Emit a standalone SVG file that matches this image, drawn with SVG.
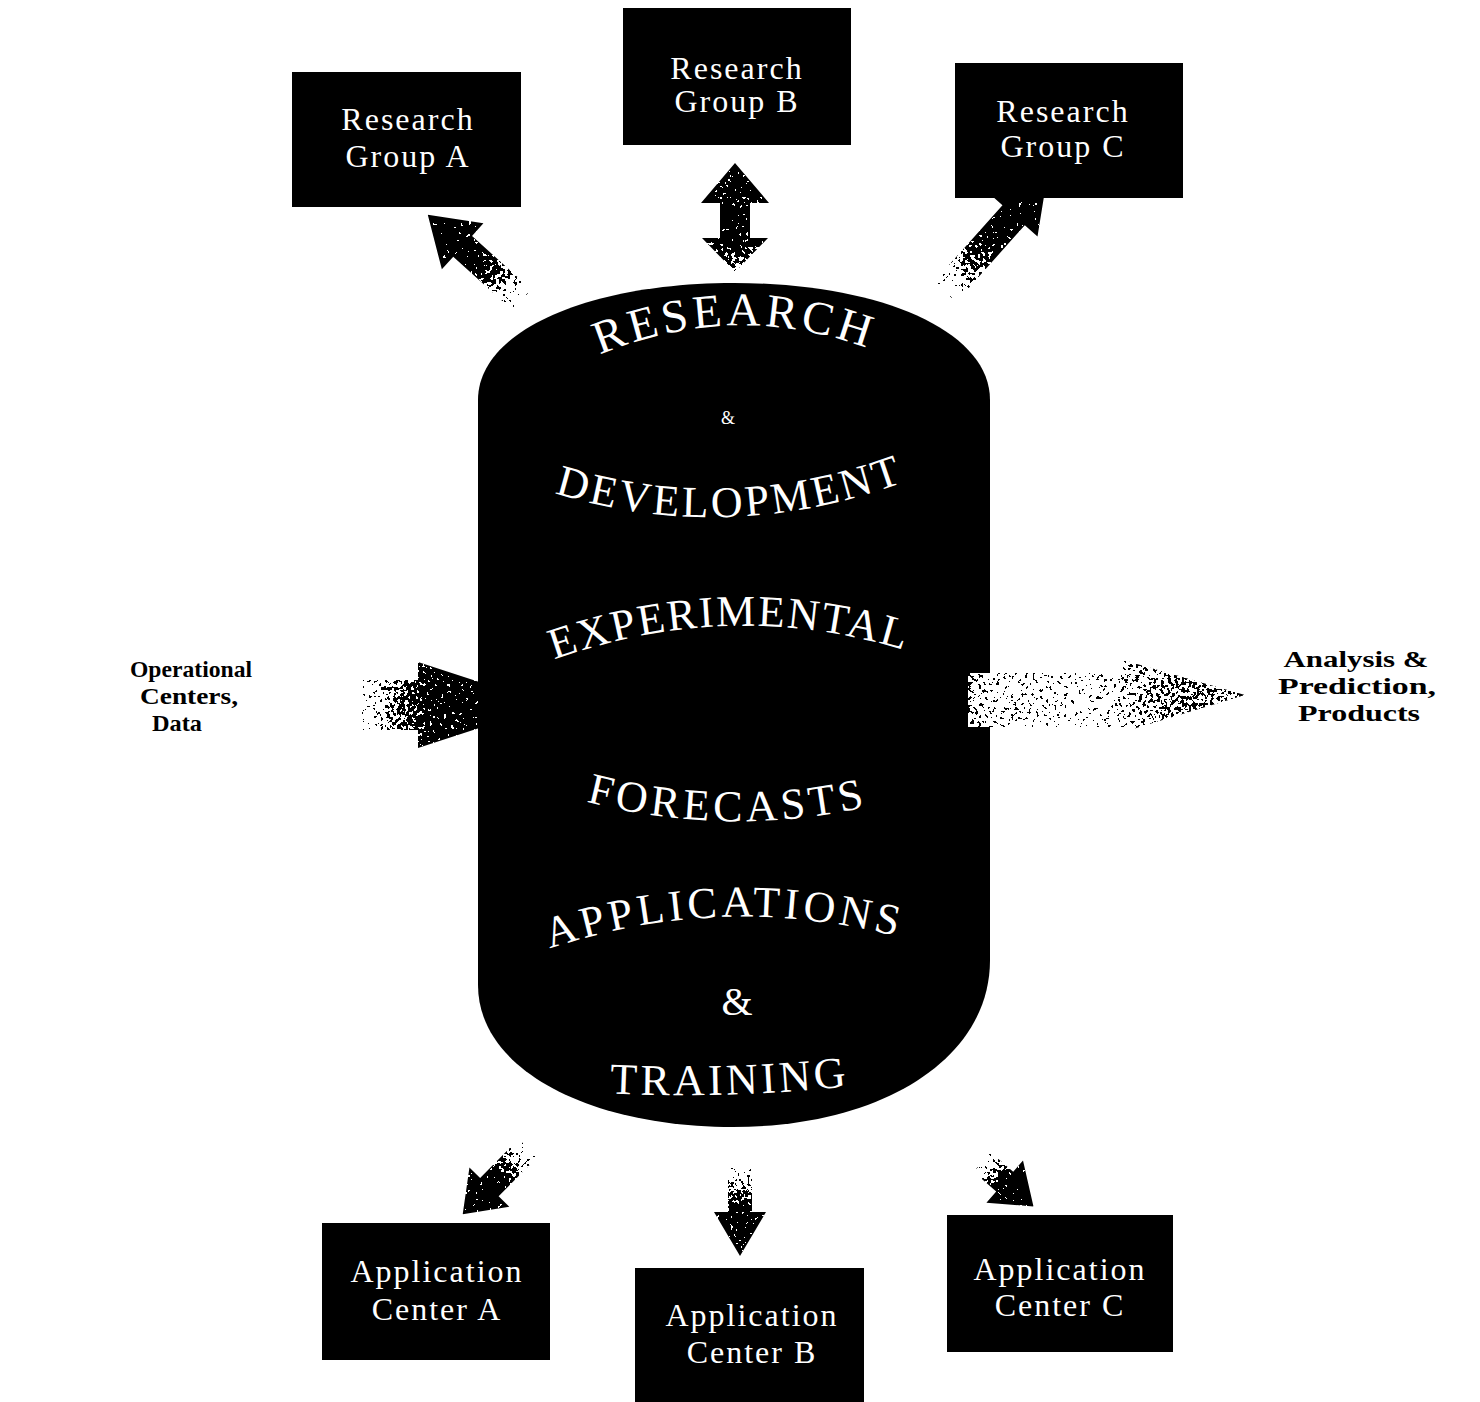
<svg xmlns="http://www.w3.org/2000/svg" width="1480" height="1402" viewBox="0 0 1480 1402">
<style>
.box{fill:#000}
.bt{font-family:"Liberation Serif","Times New Roman",serif;font-size:32px;fill:#fff;text-anchor:middle;letter-spacing:2px}
.ct{font-family:"Liberation Serif","Times New Roman",serif;fill:#fff;font-size:44px}
.side{font-family:"Liberation Serif","Times New Roman",serif;font-weight:bold;font-size:24px;fill:#000;text-anchor:middle}
.arr{fill:#000}
</style>
<defs>
<filter id="spk" x="0" y="0" width="1" height="1" color-interpolation-filters="sRGB">
<feTurbulence type="fractalNoise" baseFrequency="0.28" numOctaves="2" seed="7" result="t"/>
<feColorMatrix in="t" type="matrix" values="1 0 0 0 0  1 0 0 0 0  1 0 0 0 0  0 0 0 0 1" result="g"/>
<feComposite in="SourceGraphic" in2="g" operator="arithmetic" k1="0" k2="1" k3="2.5" k4="-1.25" result="s"/>
<feComponentTransfer in="s">
<feFuncR type="discrete" tableValues="0 1"/>
<feFuncG type="discrete" tableValues="0 1"/>
<feFuncB type="discrete" tableValues="0 1"/>
<feFuncA type="linear" slope="0" intercept="1"/>
</feComponentTransfer>
</filter>
<linearGradient id="fade45" x1="0" y1="0" x2="1" y2="0"><stop offset="0" stop-color="#000"/><stop offset="0.5" stop-color="#fff"/></linearGradient>
<linearGradient id="fade35" x1="0" y1="0" x2="1" y2="0"><stop offset="0" stop-color="#000"/><stop offset="0.38" stop-color="#fff"/></linearGradient>
<linearGradient id="fadeV" x1="0" y1="0" x2="0" y2="1"><stop offset="0.68" stop-color="#fff"/><stop offset="1" stop-color="#333"/></linearGradient>
<linearGradient id="fadeR" x1="0" y1="0" x2="1" y2="0"><stop offset="0" stop-color="#444"/><stop offset="0.1" stop-color="#222"/><stop offset="0.45" stop-color="#111"/><stop offset="0.72" stop-color="#6e6e6e"/><stop offset="0.86" stop-color="#777"/><stop offset="1" stop-color="#4a4a4a"/></linearGradient>
<mask id="mTL"><rect x="0" y="-45" width="127" height="90" fill="url(#fade45)" filter="url(#spk)"/></mask>
<mask id="mTR"><rect x="0" y="-45" width="153" height="90" fill="url(#fade45)" filter="url(#spk)"/></mask>
<mask id="mTM"><rect x="690" y="158" width="90" height="120" fill="url(#fadeV)" filter="url(#spk)"/></mask>
<mask id="mBL"><rect x="0" y="-40" width="93" height="80" fill="url(#fade45)" filter="url(#spk)"/></mask>
<mask id="mBM"><rect x="0" y="-40" width="88" height="80" fill="url(#fade45)" filter="url(#spk)"/></mask>
<mask id="mBR"><rect x="0" y="-40" width="68" height="80" fill="url(#fade45)" filter="url(#spk)"/></mask>
<mask id="mL"><rect x="0" y="-50" width="188" height="100" fill="url(#fade35)" filter="url(#spk)"/></mask>
<mask id="mR"><rect x="968" y="655" width="280" height="90" fill="url(#fadeR)" filter="url(#spk)"/></mask>
<path id="pRes" d="M588,360 Q735,294 882,354"/>
<path id="pDev" d="M545,490 Q728,550 915,478"/>
<path id="pExp" d="M540,665 Q730,592 920,655"/>
<path id="pFor" d="M580,800 Q728,840 875,805"/>
<path id="pApp" d="M540,952 Q722,888 910,940"/>
<path id="pTra" d="M600,1093 Q730,1100 860,1085"/>
</defs>
<rect width="1480" height="1402" fill="#fff"/>

<g id="cylinder">
<path d="M478,400 C478,330 590,283 734,283 C878,283 990,330 990,400 L990,960 C990,1060 880,1127 733,1127 C590,1127 478,1070 478,985 Z" fill="#000"/>
<text class="ct" style="font-size:47px;letter-spacing:4px" text-anchor="middle"><textPath href="#pRes" startOffset="50%">RESEARCH</textPath></text>
<text class="ct" style="font-size:18px" x="728" y="424" text-anchor="middle">&amp;</text>
<text class="ct" style="letter-spacing:3px" text-anchor="middle"><textPath href="#pDev" startOffset="50%">DEVELOPMENT</textPath></text>
<text class="ct" style="letter-spacing:2px" text-anchor="middle"><textPath href="#pExp" startOffset="50%">EXPERIMENTAL</textPath></text>
<text class="ct" style="letter-spacing:4px" text-anchor="middle"><textPath href="#pFor" startOffset="50%">FORECASTS</textPath></text>
<text class="ct" style="letter-spacing:4px" text-anchor="middle"><textPath href="#pApp" startOffset="50%">APPLICATIONS</textPath></text>
<text class="ct" style="font-size:40px" x="737" y="1015" text-anchor="middle">&amp;</text>
<text class="ct" style="letter-spacing:3.5px" text-anchor="middle"><textPath href="#pTra" startOffset="50%">TRAINING</textPath></text>
</g>

<g id="connectors">
<g transform="translate(522,300) rotate(-137.9)"><path class="arr" mask="url(#mTL)" d="M0,-14 L80,-14 L80,-31 L127,0 L80,31 L80,14 L0,14 Z"/></g>
<path class="arr" mask="url(#mTM)" d="M735,163 L769,203 L750,203 L750,238 L768,238 L735,272 L702,238 L720,238 L720,203 L701,203 Z"/>
<g transform="translate(945,292) rotate(-48.2)"><path class="arr" mask="url(#mTR)" d="M0,-15 L103,-15 L103,-32 L153,0 L103,32 L103,15 L0,15 Z"/></g>
<g transform="translate(362,705)"><path class="arr" mask="url(#mL)" d="M0,-25 L56,-25 L56,-43 L188,0 L56,43 L56,25 L0,25 Z"/></g>
<rect x="968" y="673" width="24" height="54" fill="#fff"/>
<path class="arr" mask="url(#mR)" d="M968,673 L1123,673 L1123,660 L1245,695 L1123,732 L1123,727 L968,727 Z"/>
<g transform="translate(528,1148) rotate(134.6)"><path class="arr" mask="url(#mBL)" d="M0,-13 L55,-13 L55,-28 L93,0 L55,28 L55,13 L0,13 Z"/></g>
<g transform="translate(740,1168) rotate(90)"><path class="arr" mask="url(#mBM)" d="M0,-12 L44,-12 L44,-26 L88,0 L44,26 L44,12 L0,12 Z"/></g>
<g transform="translate(982,1162) rotate(40.8)"><path class="arr" mask="url(#mBR)" d="M0,-13 L30,-13 L30,-28 L68,0 L30,28 L30,13 L0,13 Z"/></g>
</g>

<g id="research-group-a"><rect class="box" x="292" y="72" width="229" height="135"/><text class="bt" x="408" y="130">Research</text><text class="bt" x="408" y="167">Group A</text></g>
<g id="research-group-b"><rect class="box" x="623" y="8" width="228" height="137"/><text class="bt" x="737" y="79">Research</text><text class="bt" x="737" y="112">Group B</text></g>
<g id="research-group-c"><rect class="box" x="955" y="63" width="228" height="135"/><text class="bt" x="1063" y="122">Research</text><text class="bt" x="1063" y="157">Group C</text></g>
<g id="application-center-a"><rect class="box" x="322" y="1223" width="228" height="137"/><text class="bt" x="437" y="1282">Application</text><text class="bt" x="437" y="1320">Center A</text></g>
<g id="application-center-b"><rect class="box" x="635" y="1268" width="229" height="134"/><text class="bt" x="752" y="1326">Application</text><text class="bt" x="752" y="1363">Center B</text></g>
<g id="application-center-c"><rect class="box" x="947" y="1215" width="226" height="137"/><text class="bt" x="1060" y="1280">Application</text><text class="bt" x="1060" y="1316">Center C</text></g>

<g id="operational-centers-data">
<text class="side" x="191" y="677" textLength="122" lengthAdjust="spacingAndGlyphs">Operational</text>
<text class="side" x="189" y="704" textLength="98" lengthAdjust="spacingAndGlyphs">Centers,</text>
<text class="side" x="177" y="731" textLength="50" lengthAdjust="spacingAndGlyphs">Data</text>
</g>
<g id="analysis-prediction-products">
<text class="side" x="1356" y="667" textLength="145" lengthAdjust="spacingAndGlyphs">Analysis &amp;</text>
<text class="side" x="1357" y="694" textLength="158" lengthAdjust="spacingAndGlyphs">Prediction,</text>
<text class="side" x="1359" y="721" textLength="122" lengthAdjust="spacingAndGlyphs">Products</text>
</g>
</svg>
